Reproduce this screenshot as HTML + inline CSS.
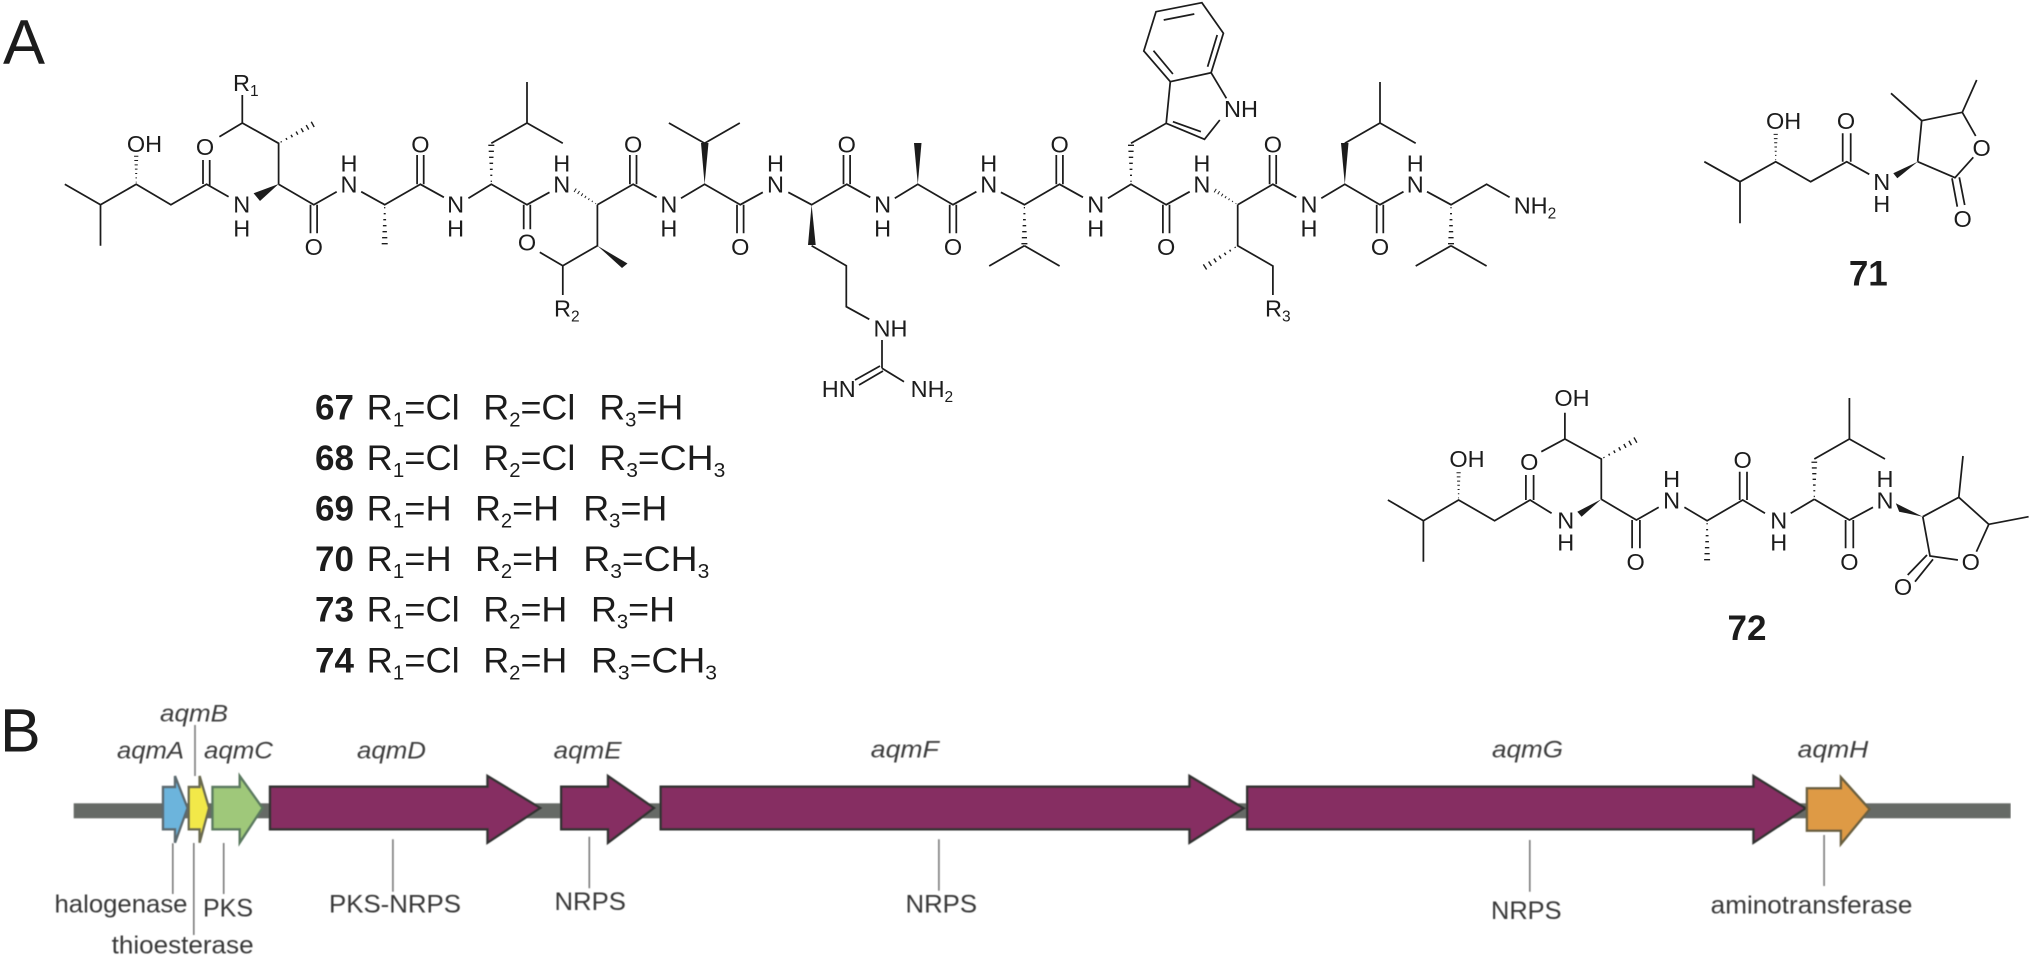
<!DOCTYPE html>
<html>
<head>
<meta charset="utf-8">
<style>
html,body{margin:0;padding:0;background:#fff}
svg{display:block}
text{font-family:"Liberation Sans",sans-serif;fill:#1c1c1c}
.a{font-size:23.5px;text-anchor:middle}
.s{font-size:23.5px}
.b{fill:none;stroke:#1c1c1c;stroke-width:1.75;stroke-linejoin:miter}
.r{font-size:35.4px}
.n{font-size:35px;font-weight:bold;fill:#1c1c1c}
.g{font-size:24px;font-style:italic;fill:#3e3e3e}
.l{font-size:25px;fill:#383838}
.t{stroke:#7a7a7a;stroke-width:1.6}
.ar{stroke-width:2.4;stroke-linejoin:miter}
</style>
</head>
<body>
<svg xmlns="http://www.w3.org/2000/svg" width="2032" height="960" viewBox="0 0 2032 960">
<defs>
<g id="h" stroke="#1c1c1c" stroke-width="1.4">
<path d="M3 -.6V.6M9 -1V1M15 -1.4V1.4M21 -1.8V1.8M27 -2.2V2.2M33 -2.6V2.6M39 -3V3"/>
</g>
<filter id="bl" x="0" y="0" width="100%" height="100%"><feGaussianBlur stdDeviation="0.45"/></filter>
</defs>
<rect width="2032" height="960" fill="#fff"/>

<text x="3" y="63.3" font-size="63" fill="#1c1c1c">A</text>

<!-- main molecule bonds -->
<path class="b" d="M64.8 184.3L100.5 204.7L136.2 184.3L170.9 204.7L206.6 184.3L228.6 196.7
M100.5 204.7V245.7
M203 184V160M209.7 186V160
M278.6 184.3V143.3L242.3 123L219.4 136.7M242.3 123V95
M278.6 184.3L313.8 204.7L336.7 191.7
M310.5 204.7V233.3M317.1 204.7V233.3
M361.2 191.7L384.7 204.7L420.4 184.3L443.9 197.3
M417.1 184.3V155M423.7 184.3V155
M468.4 198.3L491.3 184.3L527 204.7L549.5 192.3
M491.3 143.3L527 123L562.8 143.3M527 123V82
M523.7 204.7V229.3M530.3 204.7V229.3
M597.4 204.7V245.7L562.8 265.7L539.8 252.3M562.8 265.7V295
M597.4 204.7L633.2 184.3L656.6 197.3
M629.9 184.3V155M636.5 184.3V155
M681 198.3L704.6 184.3L740.3 204.7L762.8 192.3
M704.6 143.3L668.9 123M704.6 143.3L739.8 123
M737 204.7V233.3M743.6 204.7V233.3
M788.3 192.3L811.6 204.7L846.8 184.3L870.3 197.3
M811.6 245.7L846.3 265.7V306.7L869.3 319.3
M882 340V368.3M882 368.3L904 381.7
M880 366L855 380M883 371L859 385
M843.5 184.3V155M850.1 184.3V155
M894.8 198.3L917.8 184.3L953 204.7L976.4 191.7
M949.7 204.7V233.3M956.3 204.7V233.3
M1000.9 192.3L1024.4 204.7L1059.6 184.3L1083 197.3
M1024.4 245.7L989.2 266M1024.4 245.7L1059.6 266
M1056.3 184.3V155M1062.9 184.3V155
M1108 198.3L1131 184.3L1166.2 204.7L1189.7 191.7
M1131 143.3L1166.2 123.3L1204.5 139.3L1219.8 120M1211.1 72.7L1226.4 98.3
M1166.2 123.3L1170.3 81.7L1211.1 72.7L1223.4 33.3L1201.9 2.7L1156 11.7L1143.8 51L1170.3 81.7
M1172.9 121.7L1200.9 131.7M1163.7 20L1194.3 14M1217.2 35L1207.6 66.7M1172.9 74L1153.5 50.7
M1162.9 204.7V233.3M1169.5 204.7V233.3
M1237.7 204.7V245.7L1272.9 266V295
M1237.7 204.7L1272.9 184.3L1296.3 197.3
M1269.6 184.3V155M1276.2 184.3V155
M1321.3 198.3L1344.8 184.3L1380 204.7L1403.5 191.7
M1344.8 143.3L1380 123L1415.7 143.3M1380 123V82
M1376.7 204.7V233.3M1383.3 204.7V233.3
M1427 191.7L1451 204.7L1486.6 184.3L1509.6 197.3
M1451 245.7L1415.7 266M1451 245.7L1486.6 266"/>

<g fill="#1c1c1c">
<polygon points="278.6,184 253.6,193.3 260,201"/>
<polygon points="597.4,245.7 622,268 627.5,263.5"/>
<polygon points="704.6,184.3 701,143 708.5,143"/>
<polygon points="811.6,204.7 808,245 815.7,245"/>
<polygon points="917.8,184.3 914,143 921.5,143"/>
<polygon points="1344.8,184.3 1341,143 1348.5,143"/>
</g>
<use href="#h" transform="translate(136.2 184.3) rotate(-90) scale(.72)"/>
<use href="#h" transform="translate(278.6 143.3) rotate(-29)"/>
<use href="#h" transform="translate(384.7 204.7) rotate(90)"/>
<use href="#h" transform="translate(491.3 184.3) rotate(-90)"/>
<use href="#h" transform="translate(597.4 204.7) rotate(-147) scale(.68)"/>
<use href="#h" transform="translate(1024.4 204.7) rotate(90)"/>
<use href="#h" transform="translate(1131 184.3) rotate(-90)"/>
<use href="#h" transform="translate(1237.7 204.7) rotate(-148) scale(.68)"/>
<use href="#h" transform="translate(1237.7 245.7) rotate(147)"/>
<use href="#h" transform="translate(1451 204.7) rotate(90)"/>

<!-- main molecule labels -->
<text class="a" x="144.5" y="152">OH</text>
<text class="a" x="205" y="155">O</text>
<text class="a" x="241.8" y="212.5">N</text><text class="a" x="241.8" y="236.5">H</text>
<text class="a" x="313.8" y="255">O</text>
<text class="a" x="349" y="192.5">N</text><text class="a" x="349" y="171.5">H</text>
<text class="a" x="420.4" y="152.5">O</text>
<text class="a" x="455.6" y="212.5">N</text><text class="a" x="455.6" y="236.5">H</text>
<text class="a" x="527" y="250.5">O</text>
<text class="a" x="561.7" y="192.5">N</text><text class="a" x="561.7" y="171.5">H</text>
<text class="a" x="633.2" y="152.5">O</text>
<text class="a" x="668.9" y="212.5">N</text><text class="a" x="668.9" y="236.5">H</text>
<text class="a" x="740.3" y="255">O</text>
<text class="a" x="775.5" y="192.5">N</text><text class="a" x="775.5" y="171.5">H</text>
<text class="a" x="846.8" y="152.5">O</text>
<text class="a" x="882.6" y="212.5">N</text><text class="a" x="882.6" y="236.5">H</text>
<text class="a" x="953" y="255">O</text>
<text class="a" x="988.7" y="192.5">N</text><text class="a" x="988.7" y="171.5">H</text>
<text class="a" x="1059.6" y="152.5">O</text>
<text class="a" x="1095.8" y="212.5">N</text><text class="a" x="1095.8" y="236.5">H</text>
<text class="a" x="1166.2" y="255">O</text>
<text class="a" x="1201.9" y="192.5">N</text><text class="a" x="1201.9" y="171.5">H</text>
<text class="a" x="1272.9" y="152.5">O</text>
<text class="a" x="1309" y="212.5">N</text><text class="a" x="1309" y="236.5">H</text>
<text class="a" x="1380" y="255">O</text>
<text class="a" x="1415.2" y="192.5">N</text><text class="a" x="1415.2" y="171.5">H</text>
<text class="s" x="1224" y="117">NH</text>
<text class="s" x="1513.7" y="213.5">NH<tspan font-size="15.5" dy="5">2</tspan></text>
<text class="s" x="233" y="91">R<tspan font-size="15.5" dy="5">1</tspan></text>
<text class="s" x="554" y="316.5">R<tspan font-size="15.5" dy="5">2</tspan></text>
<text class="s" x="1265" y="316.5">R<tspan font-size="15.5" dy="5">3</tspan></text>
<text class="a" x="890.5" y="336.5">NH</text>
<text class="a" x="838.7" y="397">HN</text>
<text class="s" x="910.6" y="397">NH<tspan font-size="15.5" dy="5">2</tspan></text>

<!-- substituent table -->
<g>
<text class="n" x="315" y="419.3">67</text>
<text class="r" x="366.7" y="419.3" textLength="93" lengthAdjust="spacingAndGlyphs">R<tspan font-size="20" dy="7">1</tspan><tspan dy="-7">=Cl</tspan></text>
<text class="r" x="483.3" y="419.3" textLength="92" lengthAdjust="spacingAndGlyphs">R<tspan font-size="20" dy="7">2</tspan><tspan dy="-7">=Cl</tspan></text>
<text class="r" x="599.3" y="419.3" textLength="84" lengthAdjust="spacingAndGlyphs">R<tspan font-size="20" dy="7">3</tspan><tspan dy="-7">=H</tspan></text>

<text class="n" x="315" y="470">68</text>
<text class="r" x="366.7" y="470" textLength="93" lengthAdjust="spacingAndGlyphs">R<tspan font-size="20" dy="7">1</tspan><tspan dy="-7">=Cl</tspan></text>
<text class="r" x="483.3" y="470" textLength="92" lengthAdjust="spacingAndGlyphs">R<tspan font-size="20" dy="7">2</tspan><tspan dy="-7">=Cl</tspan></text>
<text class="r" x="599.3" y="470" textLength="126" lengthAdjust="spacingAndGlyphs">R<tspan font-size="20" dy="7">3</tspan><tspan dy="-7">=CH</tspan><tspan font-size="20" dy="7">3</tspan></text>

<text class="n" x="315" y="520.7">69</text>
<text class="r" x="366.7" y="520.7" textLength="85" lengthAdjust="spacingAndGlyphs">R<tspan font-size="20" dy="7">1</tspan><tspan dy="-7">=H</tspan></text>
<text class="r" x="475" y="520.7" textLength="84" lengthAdjust="spacingAndGlyphs">R<tspan font-size="20" dy="7">2</tspan><tspan dy="-7">=H</tspan></text>
<text class="r" x="583.3" y="520.7" textLength="84" lengthAdjust="spacingAndGlyphs">R<tspan font-size="20" dy="7">3</tspan><tspan dy="-7">=H</tspan></text>

<text class="n" x="315" y="571">70</text>
<text class="r" x="366.7" y="571" textLength="85" lengthAdjust="spacingAndGlyphs">R<tspan font-size="20" dy="7">1</tspan><tspan dy="-7">=H</tspan></text>
<text class="r" x="475" y="571" textLength="84" lengthAdjust="spacingAndGlyphs">R<tspan font-size="20" dy="7">2</tspan><tspan dy="-7">=H</tspan></text>
<text class="r" x="583.3" y="571" textLength="126" lengthAdjust="spacingAndGlyphs">R<tspan font-size="20" dy="7">3</tspan><tspan dy="-7">=CH</tspan><tspan font-size="20" dy="7">3</tspan></text>

<text class="n" x="315" y="621.7">73</text>
<text class="r" x="366.7" y="621.7" textLength="93" lengthAdjust="spacingAndGlyphs">R<tspan font-size="20" dy="7">1</tspan><tspan dy="-7">=Cl</tspan></text>
<text class="r" x="483.3" y="621.7" textLength="84" lengthAdjust="spacingAndGlyphs">R<tspan font-size="20" dy="7">2</tspan><tspan dy="-7">=H</tspan></text>
<text class="r" x="591" y="621.7" textLength="84" lengthAdjust="spacingAndGlyphs">R<tspan font-size="20" dy="7">3</tspan><tspan dy="-7">=H</tspan></text>

<text class="n" x="315" y="672.3">74</text>
<text class="r" x="366.7" y="672.3" textLength="93" lengthAdjust="spacingAndGlyphs">R<tspan font-size="20" dy="7">1</tspan><tspan dy="-7">=Cl</tspan></text>
<text class="r" x="483.3" y="672.3" textLength="84" lengthAdjust="spacingAndGlyphs">R<tspan font-size="20" dy="7">2</tspan><tspan dy="-7">=H</tspan></text>
<text class="r" x="591" y="672.3" textLength="126" lengthAdjust="spacingAndGlyphs">R<tspan font-size="20" dy="7">3</tspan><tspan dy="-7">=CH</tspan><tspan font-size="20" dy="7">3</tspan></text>
</g>

<!-- compound 71 -->
<path class="b" d="M1704.3 161.7L1740 181.7L1775.7 161.7L1810.7 181.7L1846.7 161.7L1869.3 174.3
M1740 181.7V223.3
M1842.7 161.7V133.3M1850.7 161.7V133.3
M1917.7 161.7L1921.7 120.7L1962.3 112.3L1975.7 136M1973.3 157.3L1955 177.7L1917.7 161.7
M1921.7 120.7L1891 93.3M1962.3 112.3L1976.7 80
M1952 178.3L1957.3 206.7M1959.3 177.3L1964.7 205"/>
<polygon fill="#1c1c1c" points="1917.7,161.7 1893.3,173.3 1897.3,178.3"/>
<use href="#h" transform="translate(1775.7 161.7) rotate(-90) scale(.7)"/>
<text class="s" x="1766" y="129">OH</text>
<text class="a" x="1846" y="129">O</text>
<text class="a" x="1881.7" y="190">N</text><text class="a" x="1881.7" y="212">H</text>
<text class="a" x="1981.7" y="156">O</text>
<text class="a" x="1962.7" y="227">O</text>
<text class="n" x="1868.3" y="285.7" text-anchor="middle">71</text>

<!-- compound 72 -->
<path class="b" d="M1387.9 500L1423.4 520.7L1458.6 500L1494.6 520.7L1530.1 500L1551.6 513.3
M1423.4 520.7V561.7
M1525.9 500V475M1533.6 500V475
M1601.3 499.3V459L1564.9 439L1541.3 451.7M1564.9 439V412.7
M1601.3 499.3L1636.4 520L1658.7 507.3
M1632.1 520V548.3M1639.9 520V548.3
M1684.4 507.3L1707.1 520.7L1742.7 500L1765 513.3
M1739.7 500V471.7M1747 500V471.7
M1790.7 513.3L1814.3 499.3M1814.3 459L1849.4 439L1885 459M1849.4 439V398
M1814.3 499.3L1849.4 520L1873 507.3
M1845.6 520V548.3M1853.3 520V548.3
M1922.8 516.7L1958.8 497.3L1988.8 524.3L1976.4 551.7M1957.9 560L1930 556L1922.8 516.7
M1958.8 497.3L1963 456M1988.8 524.3L2028.6 516.7
M1927 555L1907.7 575M1933 559.3L1915 581.7"/>
<polygon fill="#1c1c1c" points="1601.3,499.3 1577.3,511.7 1581.6,516.7"/>
<polygon fill="#1c1c1c" points="1922.8,516.7 1895.8,503.3 1899.2,511.7"/>
<use href="#h" transform="translate(1458.6 500) rotate(-90) scale(.7)"/>
<use href="#h" transform="translate(1601.3 459) rotate(-29)"/>
<use href="#h" transform="translate(1707.1 520.7) rotate(90)"/>
<use href="#h" transform="translate(1814.3 499.3) rotate(-90) scale(.95)"/>
<text class="a" x="1467" y="467">OH</text>
<text class="a" x="1572" y="406">OH</text>
<text class="a" x="1529.3" y="470">O</text>
<text class="a" x="1565.7" y="528.5">N</text><text class="a" x="1565.7" y="550.5">H</text>
<text class="a" x="1635.6" y="570">O</text>
<text class="a" x="1671.6" y="508.5">N</text><text class="a" x="1671.6" y="487">H</text>
<text class="a" x="1742.7" y="468">O</text>
<text class="a" x="1778.7" y="528.5">N</text><text class="a" x="1778.7" y="550.5">H</text>
<text class="a" x="1849.4" y="570">O</text>
<text class="a" x="1885" y="508.5">N</text><text class="a" x="1885" y="487">H</text>
<text class="a" x="1970.8" y="570">O</text>
<text class="a" x="1903" y="595">O</text>
<text class="n" x="1747" y="640" text-anchor="middle">72</text>

<!-- panel B -->
<text x="0" y="751.7" font-size="61" fill="#1c1c1c">B</text>
<g filter="url(#bl)">
<rect x="73.7" y="803.3" width="1937" height="15" fill="#666a66"/>
<polygon class="ar" fill="#6cb4dc" stroke="#5c6a70" points="163,787 175,787 175,776 187.5,808 175,842.7 175,829.3 163,829.3"/>
<polygon class="ar" fill="#f2e848" stroke="#6a6a50" points="188.8,787 199.6,787 199.6,776 209,808 199.6,842.7 199.6,829.3 188.8,829.3"/>
<polygon class="ar" fill="#9fc87a" stroke="#5c7a60" points="212.5,787 239.7,787 239.7,776 262.5,808 239.7,842.7 239.7,829.3 212.5,829.3"/>
<polygon class="ar" fill="#862f62" stroke="#333" points="270,786.7 487.5,786.7 487.5,776 540.2,808 487.5,842.7 487.5,829.3 270,829.3"/>
<polygon class="ar" fill="#862f62" stroke="#333" points="561.2,786.7 608,786.7 608,776 654,808 608,842.7 608,829.3 561.2,829.3"/>
<polygon class="ar" fill="#862f62" stroke="#333" points="660.7,786.7 1189.5,786.7 1189.5,776 1243.7,808.3 1189.5,842.7 1189.5,829.3 660.7,829.3"/>
<polygon class="ar" fill="#862f62" stroke="#333" points="1247.2,786.7 1753.5,786.7 1753.5,776 1805.6,808.3 1753.5,842.7 1753.5,829.3 1247.2,829.3"/>
<polygon class="ar" fill="#de9a44" stroke="#6b6040" points="1806.9,788.3 1840.9,788.3 1840.9,777.3 1869.6,809.3 1840.9,844 1840.9,830.7 1806.9,830.7"/>
<g class="t">
<path d="M195 725V776M172.8 843.3V894M193.8 843V935M223.7 843V894M392.9 839.3V891.7M589.3 836.7V888.3M938.9 839.3V890.7M1529.8 840V891.7M1824.1 835V886"/>
</g>
<text class="g" x="160" y="721.7" textLength="68" lengthAdjust="spacingAndGlyphs">aqmB</text>
<text class="g" x="117" y="758.3" textLength="67" lengthAdjust="spacingAndGlyphs">aqmA</text>
<text class="g" x="204" y="758.3" textLength="69" lengthAdjust="spacingAndGlyphs">aqmC</text>
<text class="g" x="357" y="758.3" textLength="69" lengthAdjust="spacingAndGlyphs">aqmD</text>
<text class="g" x="553.6" y="758.3" textLength="68" lengthAdjust="spacingAndGlyphs">aqmE</text>
<text class="g" x="870.8" y="757.3" textLength="68" lengthAdjust="spacingAndGlyphs">aqmF</text>
<text class="g" x="1492" y="757.3" textLength="71" lengthAdjust="spacingAndGlyphs">aqmG</text>
<text class="g" x="1797.6" y="757.3" textLength="70.7" lengthAdjust="spacingAndGlyphs">aqmH</text>
<text class="l" x="54.5" y="912.7" textLength="133" lengthAdjust="spacingAndGlyphs">halogenase</text>
<text class="l" x="203" y="916.7" textLength="50" lengthAdjust="spacingAndGlyphs">PKS</text>
<text class="l" x="111.6" y="953.3" textLength="142" lengthAdjust="spacingAndGlyphs">thioesterase</text>
<text class="l" x="329" y="912.3" textLength="132" lengthAdjust="spacingAndGlyphs">PKS-NRPS</text>
<text class="l" x="554.5" y="910" textLength="71.4" lengthAdjust="spacingAndGlyphs">NRPS</text>
<text class="l" x="905.5" y="912.7" textLength="71.5" lengthAdjust="spacingAndGlyphs">NRPS</text>
<text class="l" x="1491" y="919" textLength="70.5" lengthAdjust="spacingAndGlyphs">NRPS</text>
<text class="l" x="1710.7" y="913.3" textLength="201.7" lengthAdjust="spacingAndGlyphs">aminotransferase</text>
</g>
</svg>
</body>
</html>
